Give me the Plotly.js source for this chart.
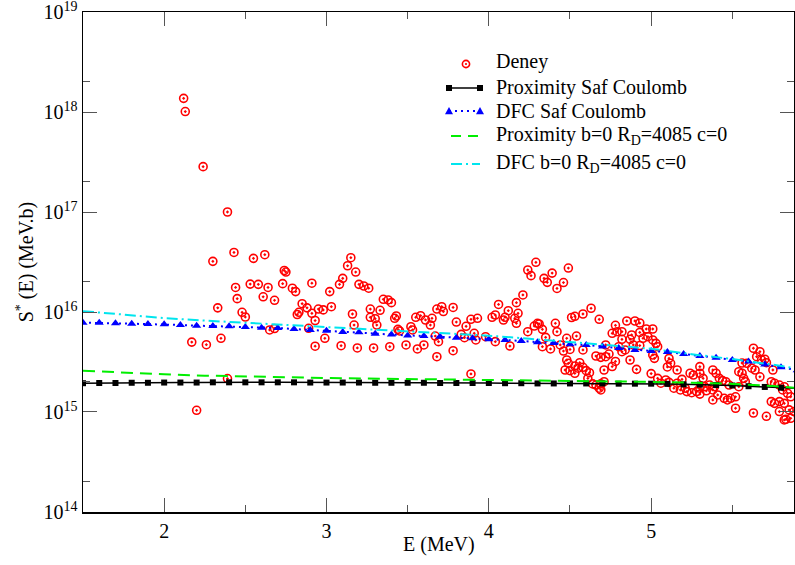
<!DOCTYPE html>
<html>
<head>
<meta charset="utf-8">
<script src="https://cdn.plot.ly/plotly-3.0.1.min.js"></script>
<style>html,body{margin:0;padding:0;background:#fff;}#chart{width:795px;height:565px;}</style>
</head>
<body>
<div id="chart"></div>
<script>
// Deney (experimental) points
const deneyE = [2.12,2.13,2.24,2.39,2.17,2.20,2.26,2.30,2.33,2.35,2.39,2.43,2.44,2.45,2.48,2.50,2.53,2.55,2.58,2.61,2.62,2.64,2.65,2.68,2.68,2.73,2.74,2.75,2.79,2.81,2.82,2.83,2.85,2.88,2.89,2.91,2.91,2.93,2.93,2.95,2.98,2.99,3.02,3.03,3.08,3.09,3.10,3.13,3.15,3.16,3.17,3.18,3.19,3.20,3.23,3.26,3.27,3.27,3.29,3.30,3.31,3.33,3.35,3.38,3.39,3.40,3.42,3.43,3.44,3.45,3.49,3.52,3.53,3.55,3.56,3.58,3.60,3.61,3.64,3.65,3.67,3.68,3.68,3.69,3.71,3.72,3.78,3.78,3.80,3.83,3.85,3.86,3.89,3.89,3.91,3.92,3.93,3.98,4.02,4.04,4.04,4.06,4.09,4.10,4.12,4.13,4.16,4.17,4.17,4.18,4.21,4.24,4.24,4.26,4.28,4.29,4.30,4.31,4.33,4.34,4.35,4.36,4.33,4.38,4.39,4.41,4.42,4.42,4.46,4.49,4.44,4.46,4.50,4.48,4.51,4.53,4.54,4.58,4.58,4.63,4.68,4.48,4.49,4.47,4.50,4.53,4.56,4.53,4.55,4.58,4.60,4.62,4.61,4.64,4.66,4.68,4.69,4.71,4.66,4.69,4.72,4.74,4.72,4.76,4.78,4.79,4.82,4.85,4.90,4.93,4.88,4.93,4.95,4.97,5.01,4.98,5.01,5.03,5.04,4.89,4.82,4.87,4.80,4.82,4.84,4.93,4.76,4.78,4.87,4.71,4.91,5.01,5.02,5.00,5.04,5.06,5.11,5.12,5.10,5.16,5.09,5.11,5.16,5.14,5.18,5.22,5.25,5.28,5.19,5.24,5.26,5.30,5.30,5.32,5.21,5.30,5.30,5.34,5.33,5.36,5.39,5.38,5.38,5.40,5.42,5.44,5.38,5.41,5.45,5.47,5.49,5.52,5.46,5.48,5.52,5.54,5.56,5.57,5.58,5.54,5.62,5.64,5.56,5.59,5.63,5.67,5.65,5.68,5.70,5.71,5.75,5.67,5.74,5.76,5.79,5.82,5.63,5.71,5.74,5.76,5.79,5.81,5.84,5.86,5.82,5.85,5.82,5.86,5.88,5.79,5.83,4.69];
const deneyS = [1.37e18,1.01e18,2.84e17,1.0e17,5.0e15,1.04e15,4.71e15,3.21e16,1.10e16,5.46e15,2.16e15,3.94e16,1.76e16,1.36e16,9.93e15,8.91e15,1.90e16,3.44e16,1.89e16,1.42e16,3.74e16,1.76e16,6.61e15,1.31e16,6.84e15,1.92e16,2.60e16,2.51e16,1.73e16,1.60e16,9.44e15,9.93e15,1.21e16,1.10e16,6.87e15,9.70e15,1.94e16,8.22e15,4.55e15,1.07e16,1.05e16,5.46e15,1.60e16,1.13e16,1.89e16,4.60e15,2.17e16,2.90e16,3.49e16,9.55e15,7.41e15,2.51e16,4.37e15,1.89e16,1.82e16,1.73e16,1.07e16,8.85e15,4.37e15,8.57e15,7.41e15,1.04e16,1.34e16,1.32e16,4.50e15,1.24e16,8.65e15,9.12e15,6.71e15,6.46e15,4.68e15,7.13e15,6.61e15,8.85e15,4.27e15,9.18e15,4.68e15,8.32e15,7.41e15,8.65e15,5.75e15,1.07e16,3.57e15,5.05e15,1.13e16,1.01e16,1.11e16,4.10e15,7.94e15,5.98e15,5.53e15,7.19e15,8.45e15,2.40e15,6.12e15,5.25e15,8.65e15,5.66e15,8.85e15,9.33e15,5.05e15,1.19e16,8.32e15,8.85e15,1.03e16,4.57e15,8.65e15,1.24e16,7.71e15,9.70e15,1.48e16,2.63e16,6.35e15,2.31e16,7.24e15,3.14e16,7.71e15,7.59e15,6.71e15,2.17e16,5.58e15,1.98e16,4.50e15,4.27e15,2.45e16,7.71e15,6.35e15,1.72e16,1.97e16,2.75e16,4.68e15,4.07e15,4.22e15,5.46e15,8.81e15,9.06e15,5.75e15,4.17e15,9.55e15,1.09e16,8.45e15,3.31e15,3.07e15,2.63e15,2.59e15,2.44e15,3.11e15,2.88e15,2.74e15,2.80e15,2.59e15,2.47e15,2.17e15,1.91e15,1.86e15,1.73e15,1.91e15,2.01e15,3.63e15,3.52e15,3.57e15,3.80e15,4.68e15,6.12e15,7.36e15,6.35e15,6.35e15,8.13e15,8.13e15,7.76e15,5.89e15,6.24e15,5.46e15,6.76e15,6.76e15,5.66e15,5.25e15,4.86e15,4.50e15,4.68e15,5.33e15,5.33e15,4.50e15,4.01e15,4.17e15,4.62e15,2.85e15,3.20e15,3.31e15,2.63e15,2.67e15,3.72e15,3.44e15,2.42e15,2.17e15,1.94e15,3.44e15,3.07e15,2.82e15,2.63e15,2.09e15,1.98e15,1.94e15,1.73e15,1.66e15,1.60e15,1.56e15,1.60e15,2.12e15,2.44e15,2.34e15,2.44e15,2.84e15,2.17e15,1.73e15,1.73e15,1.51e15,1.63e15,1.79e15,1.86e15,1.79e15,1.66e15,2.63e15,2.44e15,2.17e15,2.06e15,1.32e15,1.48e15,1.37e15,1.32e15,1.37e15,1.42e15,2.01e15,1.86e15,1.09e15,2.53e15,2.44e15,2.17e15,2.01e15,1.79e15,2.74e15,2.63e15,3.09e15,3.07e15,4.34e15,4.01e15,3.57e15,3.31e15,3.37e15,3.11e15,2.63e15,2.25e15,2.01e15,1.94e15,1.86e15,1.79e15,9.77e14,9.06e14,1.27e15,1.22e15,1.27e15,1.66e15,1.54e15,1.42e15,1.22e15,1.05e15,8.32e14,8.65e14,1.01e15,1.01e15,8.45e14,1.66e15];

// Saf Coulomb model curves (sampled every 0.1 MeV)
const safE = [1.5,1.6,1.7,1.8,1.9,2.0,2.1,2.2,2.3,2.4,2.5,2.6,2.7,2.8,2.9,3.0,3.1,3.2,3.3,3.4,3.5,3.6,3.7,3.8,3.9,4.0,4.1,4.2,4.3,4.4,4.5,4.6,4.7,4.8,4.9,5.0,5.1,5.2,5.3,5.4,5.5,5.6,5.7,5.8,5.9];
const proxSaf = [1.94e15,1.95e15,1.95e15,1.96e15,1.96e15,1.97e15,1.97e15,1.97e15,1.98e15,1.98e15,1.98e15,1.98e15,1.98e15,1.98e15,1.97e15,1.97e15,1.97e15,1.97e15,1.96e15,1.96e15,1.96e15,1.96e15,1.95e15,1.95e15,1.95e15,1.95e15,1.94e15,1.94e15,1.93e15,1.93e15,1.93e15,1.93e15,1.93e15,1.92e15,1.92e15,1.92e15,1.91e15,1.89e15,1.88e15,1.86e15,1.84e15,1.81e15,1.78e15,1.75e15,1.72e15];
const dfcSaf = [7.82e15,7.82e15,7.71e15,7.64e15,7.59e15,7.53e15,7.41e15,7.30e15,7.24e15,7.19e15,7.08e15,6.97e15,6.92e15,6.76e15,6.61e15,6.50e15,6.31e15,6.26e15,6.06e15,5.97e15,5.83e15,5.75e15,5.66e15,5.53e15,5.45e15,5.33e15,5.25e15,5.13e15,4.98e15,4.90e15,4.75e15,4.68e15,4.52e15,4.36e15,4.17e15,4.07e15,3.98e15,3.80e15,3.63e15,3.49e15,3.31e15,3.19e15,2.99e15,2.80e15,2.62e15];

// b=0, R_D=4085, c=0 curves
const b0E = [1.5,1.75,2.0,2.25,2.5,2.75,3.0,3.25,3.5,3.75,4.0,4.25,4.5,4.75,5.0,5.25,5.5,5.75,5.9];
const proxB0 = [2.59e15,2.47e15,2.38e15,2.31e15,2.26e15,2.22e15,2.19e15,2.16e15,2.14e15,2.11e15,2.09e15,2.07e15,2.06e15,2.03e15,2.0e15,1.96e15,1.91e15,1.82e15,1.74e15];
const dfcB0 = [1.02e16,9.4e15,8.7e15,8.2e15,7.8e15,7.4e15,7.1e15,6.7e15,6.4e15,6.1e15,5.8e15,5.4e15,5.0e15,4.65e15,4.3e15,3.78e15,3.38e15,2.97e15,2.72e15];

const seriesNames = ['Deney', 'Proximity Saf Coulomb', 'DFC Saf Coulomb',
                     'Proximity b=0 R<sub>D</sub>=4085 c=0', 'DFC b=0 R<sub>D</sub>=4085 c=0'];

const xTicks = [2,3,4,5];
const xMinor = [1.5,2.5,3.5,4.5,5.5];
const yTicks = [1e14,1e15,1e16,1e17,1e18,1e19];
const yTickText = ['10<sup>14</sup>','10<sup>15</sup>','10<sup>16</sup>','10<sup>17</sup>','10<sup>18</sup>','10<sup>19</sup>'];
const yMinor = [2e14,2e15,2e16,2e17,2e18];

const FONT = 'Liberation Serif';
const RED = '#ff0000', BLACK = '#000000', BLUE = '#0000ff', GREEN = '#00ee00', CYAN = '#00e5ee';
const BLUE_DASH = '2px,4px', GREEN_DASH = '12px,7px', CYAN_DASH = '11px,4px,2px,4px';

const traces = [
  {x: deneyE, y: deneyS, type: 'scatter', mode: 'markers', name: seriesNames[0],
   marker: {symbol: 'circle-open-dot', size: 8, color: RED, line: {width: 1.6, color: RED}}},
  {x: safE, y: proxSaf, type: 'scatter', mode: 'lines+markers', name: seriesNames[1],
   line: {color: BLACK, width: 1.5}, marker: {symbol: 'square', size: 6, color: BLACK}},
  {x: safE, y: dfcSaf, type: 'scatter', mode: 'lines+markers', name: seriesNames[2],
   line: {color: BLUE, width: 2, dash: BLUE_DASH}, marker: {symbol: 'triangle-up', size: 8, color: BLUE}},
  {x: b0E, y: proxB0, type: 'scatter', mode: 'lines', name: seriesNames[3],
   line: {color: GREEN, width: 2, dash: GREEN_DASH}},
  {x: b0E, y: dfcB0, type: 'scatter', mode: 'lines', name: seriesNames[4],
   line: {color: CYAN, width: 2, dash: CYAN_DASH}}
];

// ---- Custom legend (grace style: symbol at both ends of the sample line) ----
const M = {l: 83, r: 1, t: 12, b: 53}, W = 795, H = 565;
const PW = W - M.l - M.r, PH = H - M.t - M.b;
const px = v => (v - M.l) / PW;          // pixel -> paper x
const py = v => 1 - (v - M.t) / PH;      // pixel -> paper y
const LEG = {x0: 449, x1: 480, textX: 494, rows: [64, 88, 111, 136, 164]};
const shapes = [];
const annotations = [];
function seg(y, color, width, dash, x0, x1) {
  shapes.push({type: 'line', xref: 'paper', yref: 'paper', x0: px(x0), x1: px(x1), y0: py(y), y1: py(y),
               line: {color: color, width: width, dash: dash}});
}
function sq(x, y, s, color) {
  shapes.push({type: 'rect', xref: 'paper', yref: 'paper', x0: px(x - s/2), x1: px(x + s/2), y0: py(y - s/2), y1: py(y + s/2),
               fillcolor: color, line: {width: 0}});
}
function tri(x, y, s, color) {
  const p = 'M' + px(x - s/2) + ',' + py(y + s*0.42) + 'L' + px(x + s/2) + ',' + py(y + s*0.42) + 'L' + px(x) + ',' + py(y - s*0.5) + 'Z';
  shapes.push({type: 'path', xref: 'paper', yref: 'paper', path: p, fillcolor: color, line: {width: 0}});
}
function circ(x, y, r, color, fill, lw) {
  shapes.push({type: 'circle', xref: 'paper', yref: 'paper', x0: px(x - r), x1: px(x + r), y0: py(y - r), y1: py(y + r),
               fillcolor: fill, line: {color: color, width: lw}});
}
const R = LEG.rows;
circ(466, R[0], 3.6, RED, 'rgba(0,0,0,0)', 1.6); circ(466, R[0], 1.1, RED, RED, 0);
seg(R[1], BLACK, 1.5, 'solid', LEG.x0, LEG.x1); sq(LEG.x0, R[1], 6, BLACK); sq(LEG.x1, R[1], 6, BLACK);
seg(R[2], BLUE, 2, BLUE_DASH, LEG.x0, LEG.x1); tri(LEG.x0, R[2], 8, BLUE); tri(LEG.x1, R[2], 8, BLUE);
seg(R[3], GREEN, 2, '10px,7px', 451, 479);
seg(R[4], CYAN, 2, CYAN_DASH, 451, 480);
const textRows = [62, 87, 111, 135, 163];
seriesNames.forEach((n, i) => {
  annotations.push({text: n, xref: 'paper', yref: 'paper', x: px(LEG.textX), y: py(textRows[i]),
                    xanchor: 'left', yanchor: 'middle', showarrow: false,
                    font: {family: FONT, size: 20, color: '#000'}});
});
annotations.push({text: 'E (MeV)', xref: 'paper', yref: 'paper', x: 0.5, y: -0.064, xanchor: 'center', yanchor: 'middle',
                  showarrow: false, font: {family: FONT, size: 20, color: '#000'}});

const layout = {
  width: W, height: H,
  margin: M,
  paper_bgcolor: '#ffffff', plot_bgcolor: '#ffffff',
  font: {family: FONT, size: 20, color: '#000'},
  showlegend: false,
  shapes: shapes,
  annotations: annotations,
  xaxis: {
    range: [1.5, 5.88], tickmode: 'array', tickvals: xTicks, ticktext: xTicks.map(String),
    ticks: 'inside', ticklen: 14, tickwidth: 1, tickcolor: '#555',
    minor: {tickmode: 'array', tickvals: xMinor, ticks: 'inside', ticklen: 7, tickcolor: '#555', tickwidth: 1},
    showline: true, linecolor: '#000', linewidth: 1.5, mirror: 'ticks',
    showgrid: false, zeroline: false,
    tickfont: {family: FONT, size: 20, color: '#000'}
  },
  yaxis: {
    type: 'log', range: [13.9999, 19.0001], tickmode: 'array', tickvals: yTicks, ticktext: yTickText,
    ticklabeloverflow: 'allow',
    ticks: 'inside', ticklen: 14, tickwidth: 1, tickcolor: '#555',
    minor: {tickmode: 'array', tickvals: yMinor, ticks: 'inside', ticklen: 7, tickcolor: '#555', tickwidth: 1},
    showline: true, linecolor: '#000', linewidth: 1.5, mirror: 'ticks',
    showgrid: false, zeroline: false,
    tickfont: {family: FONT, size: 20, color: '#000'},
    title: {text: 'S<sup>*</sup> (E) (MeV.b)', font: {family: FONT, size: 20, color: '#000'}, standoff: 4}
  }
};

Plotly.newPlot('chart', traces, layout, {displayModeBar: false, staticPlot: true});
</script>
</body>
</html>
